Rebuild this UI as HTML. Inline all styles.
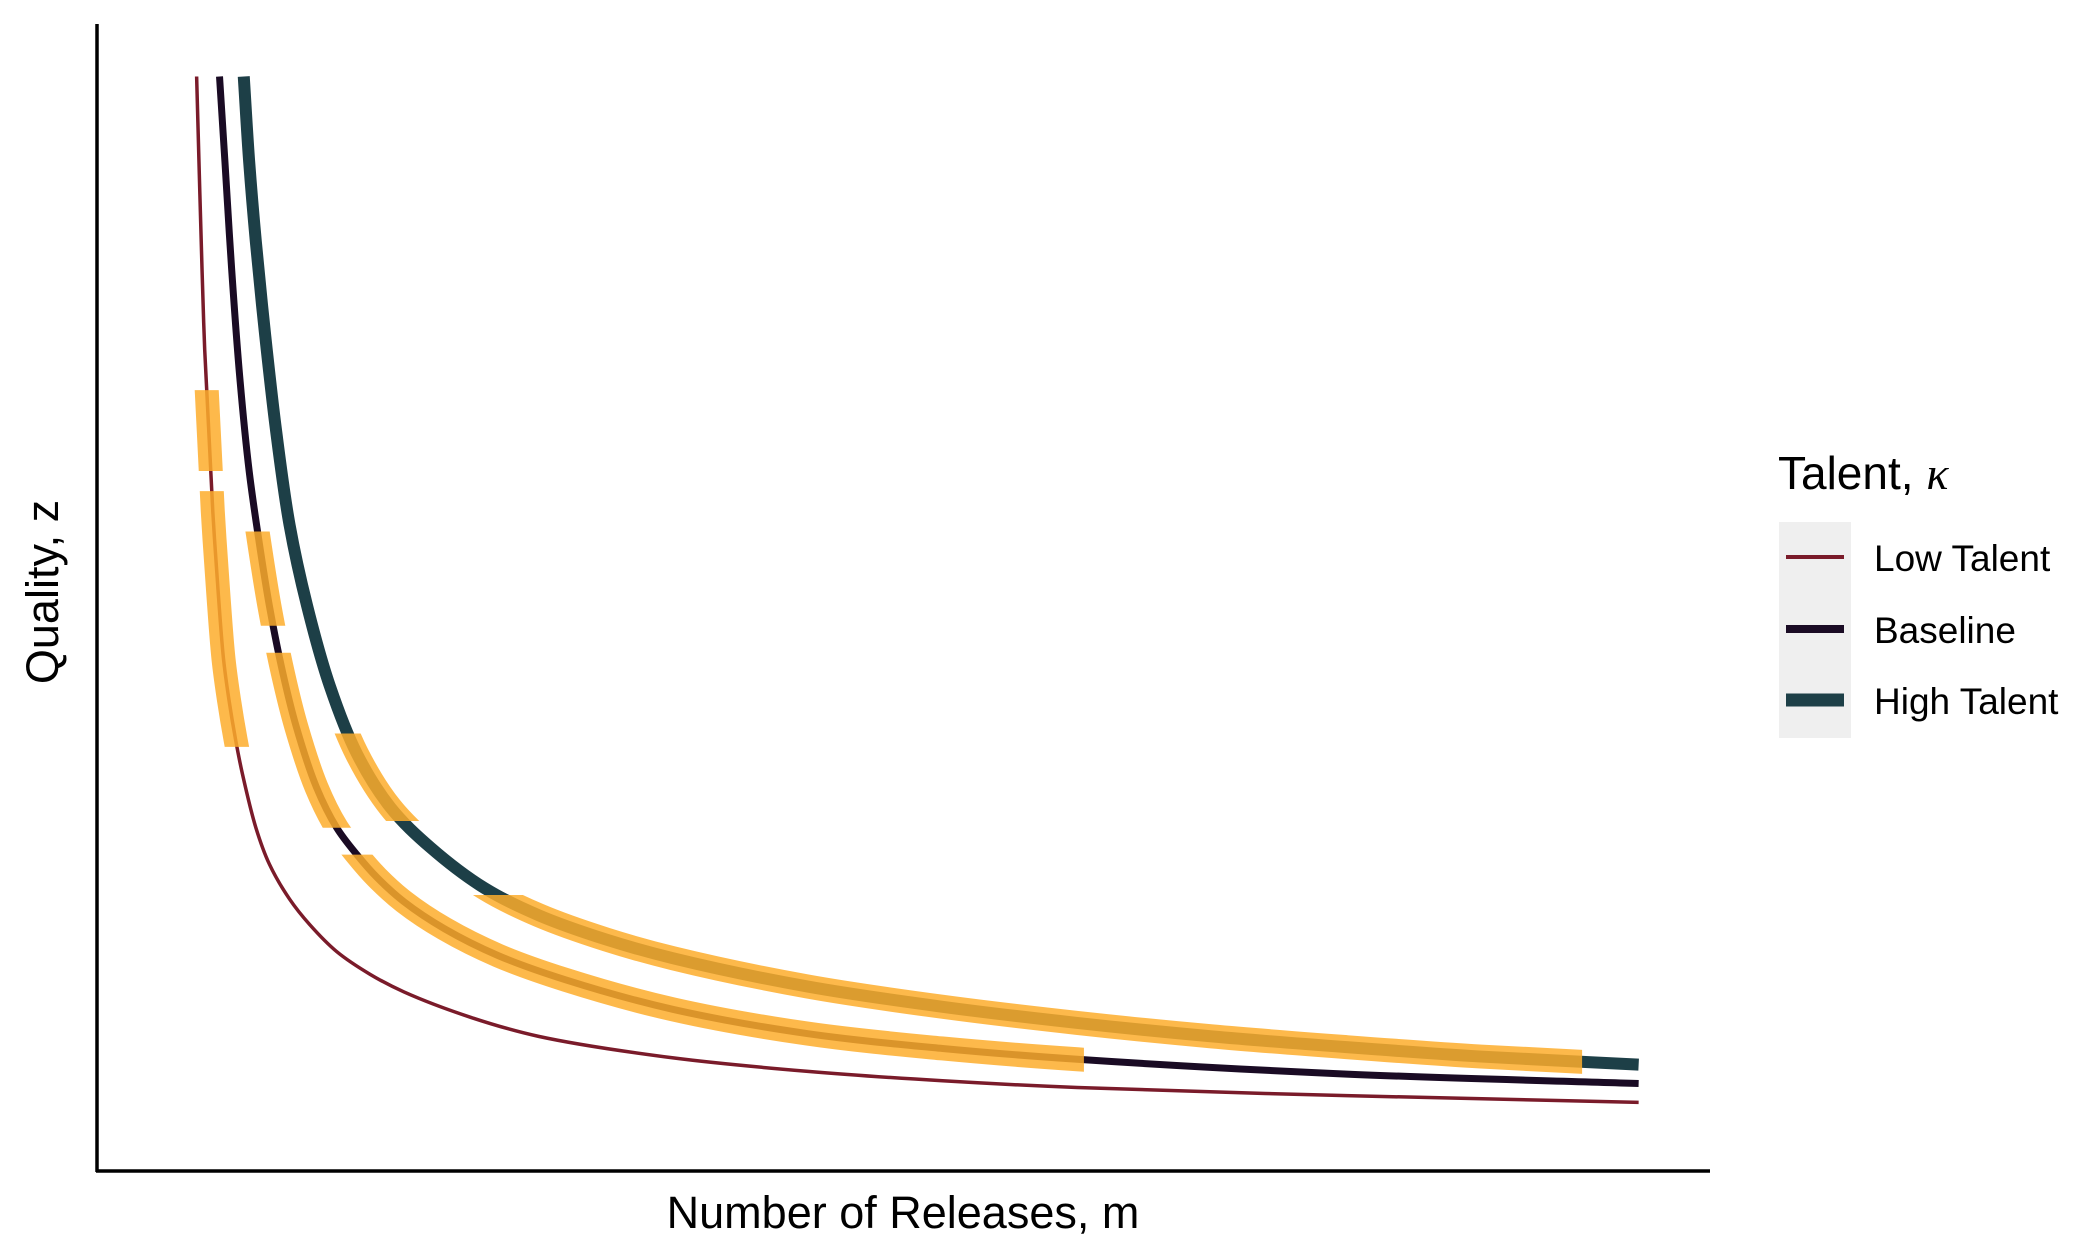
<!DOCTYPE html>
<html><head><meta charset="utf-8"><style>
html,body{margin:0;padding:0;background:#fff;}
svg{display:block;font-family:"Liberation Sans",sans-serif;}
</style></head><body>
<svg id="chart" width="2100" height="1260" viewBox="0 0 2100 1260">
<g id="plot"></g>
<line x1="97" y1="24" x2="97" y2="1172" stroke="#000" stroke-width="3.5"/>
<line x1="96" y1="1171" x2="1710" y2="1171" stroke="#000" stroke-width="3.5"/>
<text x="903" y="1228" text-anchor="middle" font-size="45">Number of Releases, m</text>
<text x="0" y="0" transform="translate(58,592) rotate(-90)" text-anchor="middle" font-size="45">Quality, z</text>
<g>
<text x="1778" y="489" font-size="46">Talent, <tspan font-family="Liberation Serif" font-style="italic">κ</tspan></text>
<rect x="1779" y="522" width="72" height="216" fill="#efefef"/>
<g><line x1="1786" y1="557" x2="1844" y2="557" stroke="#7a1b2a" stroke-width="4"/><text x="1874" y="571" font-size="37">Low Talent</text></g>
<g><line x1="1786" y1="629" x2="1844" y2="629" stroke="#1a0b24" stroke-width="8"/><text x="1874" y="643" font-size="37">Baseline</text></g>
<g><line x1="1786" y1="700" x2="1844" y2="700" stroke="#1d3f47" stroke-width="13"/><text x="1874" y="714" font-size="37">High Talent</text></g>
</g>
</svg>
<script>
// data (m and z in arbitrary units)
const lowM  = [146,148,150,152,155,158,162,166,170,175,180,190,200,215,230,250,275,300,350,400,500,600,700,800,1000,1217];
const lowZ  = [813,740,670,610,550,490,430,380,350,320,295,255,228,202,183,163,146,133,114,100,84,74,67,62,56,51];
const baseM = [163,167,172,178,185,192,200,210,220,235,250,265,280,300,330,370,420,500,600,700,800,1000,1217];
const baseZ = [813,750,670,590,520,470,420,370,330,285,255,235,218,200,180,160,142,120,102,91,83,72,65];
const highM = [181,185,190,197,205,215,228,245,265,290,320,360,400,450,500,600,700,800,900,1000,1100,1217];
const highZ = [813,750,690,620,550,480,420,360,310,270,240,210,190,172,158,137,122,110,100,92,85,79];
// highlighted segments: [zLow, zHigh, mMax]
const lowHi  = [[520,580,1300],[315,505,1300]];
const baseHi = [[405,475,1300],[255,385,1300],[60,235,805]];
const highHi = [[260,325,1300],[60,205,1175]];

const xS = m => 97 + (m-72)/(1270-72)*(1710-97);
const yS = z => 1171 - z/852*(1171-24);
const NS='http://www.w3.org/2000/svg';
const plot=document.getElementById('plot');
const svg=document.getElementById('chart');
const defs=document.createElementNS(NS,'defs');svg.insertBefore(defs,svg.firstChild);

function pathD(M,Z){
  const p=M.map((m,i)=>[xS(m),yS(Z[i])]);
  const n=p.length;
  const ext=[[2*p[0][0]-p[1][0],2*p[0][1]-p[1][1]],...p,[2*p[n-1][0]-p[n-2][0],2*p[n-1][1]-p[n-2][1]]];
  const dist=(a,b)=>Math.max(1e-6,Math.pow(Math.hypot(a[0]-b[0],a[1]-b[1]),0.5));
  let d='M'+p[0][0].toFixed(2)+','+p[0][1].toFixed(2);
  for(let i=1;i<ext.length-2;i++){
    const p0=ext[i-1],p1=ext[i],p2=ext[i+1],p3=ext[i+2];
    const d1=dist(p0,p1),d2=dist(p1,p2),d3=dist(p2,p3);
    const c1=[0,1].map(k=>(d1*d1*p2[k]-d2*d2*p0[k]+(2*d1*d1+3*d1*d2+d2*d2)*p1[k])/(3*d1*(d1+d2)));
    const c2=[0,1].map(k=>(d3*d3*p1[k]-d2*d2*p3[k]+(2*d3*d3+3*d3*d2+d2*d2)*p2[k])/(3*d3*(d3+d2)));
    d+=' C'+c1[0].toFixed(2)+','+c1[1].toFixed(2)+' '+c2[0].toFixed(2)+','+c2[1].toFixed(2)+' '+p2[0].toFixed(2)+','+p2[1].toFixed(2);
  }
  return d;
}
const series=[
 {name:'low',M:lowM,Z:lowZ,col:'#7a1b2a',w:3.5,hi:lowHi,hw:24},
 {name:'baseline',M:baseM,Z:baseZ,col:'#1a0b24',w:7,hi:baseHi,hw:24},
 {name:'high',M:highM,Z:highZ,col:'#1d3f47',w:12,hi:highHi,hw:24}
];
series.forEach(s=>{
  const d=pathD(s.M,s.Z);
  const p=document.createElementNS(NS,'path');
  
  
  p.setAttribute('d',d);p.setAttribute('fill','none');
  p.setAttribute('stroke',s.col);p.setAttribute('stroke-width',s.w);
  plot.appendChild(p);
  s.hi.forEach((r,k)=>{
    const cp=document.createElementNS(NS,'clipPath');
    const id='clip-'+s.name+k;cp.setAttribute('id',id);
    const rc=document.createElementNS(NS,'rect');
    rc.setAttribute('x',0);rc.setAttribute('width',xS(r[2]));
    rc.setAttribute('y',yS(r[1]));rc.setAttribute('height',yS(r[0])-yS(r[1]));
    cp.appendChild(rc);defs.appendChild(cp);
    const h=document.createElementNS(NS,'path');
    
    
    h.setAttribute('d',d);h.setAttribute('fill','none');
    h.setAttribute('stroke','#fdad2c');h.setAttribute('stroke-opacity','0.85');
    h.setAttribute('stroke-width',s.hw);
    h.setAttribute('clip-path','url(#'+id+')');
    plot.appendChild(h);
  });
});
</script>
</body></html>
